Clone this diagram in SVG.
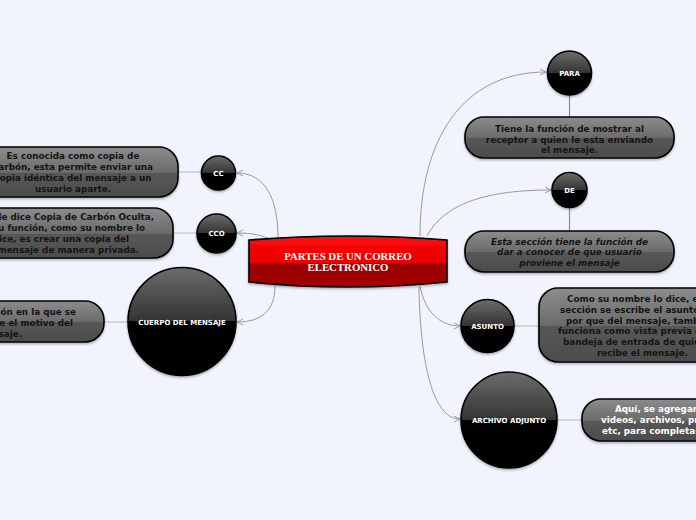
<svg xmlns="http://www.w3.org/2000/svg" width="696" height="520" viewBox="0 0 696 520">
<style>
.bg{fill:#f1f4fd}
.con{fill:none;stroke:#9a9a9a;stroke-width:1;marker-end:url(#arr)}
.sub{fill:none;stroke:#c9ccd3;stroke-width:1.5}
.vsub{fill:none;stroke:#8a8a8a;stroke-width:1.2}
.circ{fill:url(#gc);stroke:#000;stroke-width:1.6;filter:url(#sh)}
.box{fill:url(#gb);stroke:#000;stroke-width:1.6;filter:url(#sh)}
.lbl{font-family:"DejaVu Sans",Verdana,sans-serif;font-weight:bold;font-size:7px;fill:#fff;text-anchor:middle}
.txt{font-family:"DejaVu Sans",Verdana,sans-serif;font-weight:bold;font-size:8.8px;fill:#141414}
.mid{text-anchor:middle}
.end{text-anchor:end}
.w{fill:#fff}
.it{font-style:italic}
.title{font-family:"Liberation Serif","Times New Roman",serif;font-weight:bold;font-size:10.8px;fill:#fff;text-anchor:middle}
</style>
<defs>
<linearGradient id="gc" x1="0" y1="0" x2="0" y2="1">
<stop offset="0" stop-color="#6c6c6c"/><stop offset="0.5" stop-color="#333"/><stop offset="0.5" stop-color="#000"/><stop offset="1" stop-color="#000"/>
</linearGradient>
<linearGradient id="gb" x1="0" y1="0" x2="0" y2="1">
<stop offset="0" stop-color="#8c8c8c"/><stop offset="0.52" stop-color="#6a6a6a"/><stop offset="0.52" stop-color="#575757"/><stop offset="1" stop-color="#4c4c4c"/>
</linearGradient>
<linearGradient id="gr" x1="0" y1="0" x2="0" y2="1">
<stop offset="0" stop-color="#ff0a0a"/><stop offset="0.53" stop-color="#e60000"/><stop offset="0.53" stop-color="#9a0000"/><stop offset="1" stop-color="#a30000"/>
</linearGradient>
<filter id="sh" x="-10%" y="-10%" width="120%" height="130%">
<feDropShadow dx="0" dy="1.5" stdDeviation="1" flood-color="#000" flood-opacity="0.3"/>
</filter>
<marker id="arr" markerUnits="userSpaceOnUse" markerWidth="8" markerHeight="8" refX="6" refY="3.5" orient="auto">
<path d="M0,0.5 L6,3.5 L0,6.5" fill="none" stroke="#9a9a9a" stroke-width="1"/>
</marker>
</defs>
<rect class="bg" x="0" y="0" width="696" height="520"/>

<g id="connectors">
<path class="con" d="M420,236 C420,140 462,72 546,72"/>
<path class="con" d="M427,236 C445,202 490,190 551,190"/>
<path class="con" d="M420,286 C425,312 440,326 460,326"/>
<path class="con" d="M419,287 C420,352 430,419 460,419"/>
<path class="con" d="M278,238 C278,200 266,173 237,173"/>
<path class="con" d="M272,240 C262,235 252,233 237,233"/>
<path class="con" d="M275,286 C275,310 262,322 237,322"/>
<path class="vsub" d="M569.5,94 V117"/>
<path class="vsub" d="M569.5,207 V231"/>
<path class="sub" d="M178,172 H202"/>
<path class="sub" d="M173,233 H197"/>
<path class="sub" d="M104,322 H128"/>
<path class="sub" d="M514,326 H539"/>
<path class="sub" d="M557,420 H582"/>
</g>

<g id="central">
<path d="M249,240 Q348,232 447,240 L447,282 Q348,292 249,282 Z" fill="url(#gr)" stroke="#000" stroke-width="1.6" filter="url(#sh)"/>
<text class="title" x="348" y="259.5">PARTES DE UN CORREO</text>
<text class="title" x="348" y="270.5">ELECTRONICO</text>
</g>

<g id="para">
<circle class="circ" cx="569.5" cy="73" r="22"/>
<text class="lbl" x="569.5" y="75.5">PARA</text>
</g>
<g id="para-text">
<rect class="box" x="465" y="117" width="209" height="41" rx="19"/>
<text class="txt mid" x="569.5" y="132">Tiene la función de mostrar al</text>
<text class="txt mid" x="569.5" y="142.7">receptor a quien le esta enviando</text>
<text class="txt mid" x="569.5" y="153.4">el mensaje.</text>
</g>

<g id="de">
<circle class="circ" cx="569.5" cy="190" r="17.5"/>
<text class="lbl" x="569.5" y="192.5">DE</text>
</g>
<g id="de-text">
<rect class="box" x="465" y="231" width="209" height="41" rx="19"/>
<text class="txt mid it" x="569.5" y="244.5">Esta sección tiene la función de</text>
<text class="txt mid it" x="569.5" y="255">dar a conocer de que usuario</text>
<text class="txt mid it" x="569.5" y="265.5">proviene el mensaje</text>
</g>

<g id="asunto">
<circle class="circ" cx="487.5" cy="326" r="26.5"/>
<text class="lbl" x="487.5" y="329">ASUNTO</text>
</g>
<g id="asunto-text">
<rect class="box" x="539" y="288" width="209" height="74" rx="19"/>
<text class="txt" x="567" y="302">Como su nombre lo dice, en esta</text>
<text class="txt" x="560" y="312.8">sección se escribe el asunto o el</text>
<text class="txt" x="566" y="323.6">por que del mensaje, también</text>
<text class="txt" x="558" y="334.4">funciona como vista previa en la</text>
<text class="txt" x="563" y="345.2">bandeja de entrada de quien</text>
<text class="txt" x="597" y="356">recibe el mensaje.</text>
</g>

<g id="archivo">
<circle class="circ" cx="509" cy="420" r="48"/>
<text class="lbl" x="509" y="422.5">ARCHIVO ADJUNTO</text>
</g>
<g id="archivo-text">
<rect class="box" x="582" y="399" width="209" height="42" rx="19"/>
<text class="txt w" x="615" y="411.5">Aquí, se agregan imágenes,</text>
<text class="txt w" x="601" y="422.5">videos, archivos, presentaciones,</text>
<text class="txt w" x="602" y="433.5">etc, para completar el mensaje.</text>
</g>

<g id="cc">
<circle class="circ" cx="218.5" cy="173" r="17"/>
<text class="lbl" x="218.5" y="175.5">CC</text>
</g>
<g id="cc-text">
<rect class="box" x="-31" y="147" width="209" height="50" rx="19"/>
<text class="txt mid" x="73" y="159">Es conocida como copia de</text>
<text class="txt mid" x="73" y="170">carbón, esta permite enviar una</text>
<text class="txt mid" x="73" y="181">copia idéntica del mensaje a un</text>
<text class="txt mid" x="73" y="192">usuario aparte.</text>
</g>

<g id="cco">
<circle class="circ" cx="216.5" cy="233.5" r="19.5"/>
<text class="lbl" x="216.5" y="236">CCO</text>
</g>
<g id="cco-text">
<rect class="box" x="-36" y="208" width="209" height="50" rx="19"/>
<text class="txt end" x="154" y="220">Se le dice Copia de Carbón Oculta,</text>
<text class="txt end" x="145" y="231">su función, como su nombre lo</text>
<text class="txt end" x="129" y="242">dice, es crear una copia del</text>
<text class="txt end" x="139" y="253">mensaje de manera privada.</text>
</g>

<g id="cuerpo">
<circle class="circ" cx="182" cy="321.5" r="54"/>
<text class="lbl" x="182" y="324.5">CUERPO DEL MENSAJE</text>
</g>
<g id="cuerpo-text">
<rect class="box" x="-105" y="301" width="209" height="41" rx="19"/>
<text class="txt end" x="76" y="315">Es la sección en la que se</text>
<text class="txt end" x="73" y="326">describe el motivo del</text>
<text class="txt end" x="22" y="336.5">mensaje.</text>
</g>
</svg>
